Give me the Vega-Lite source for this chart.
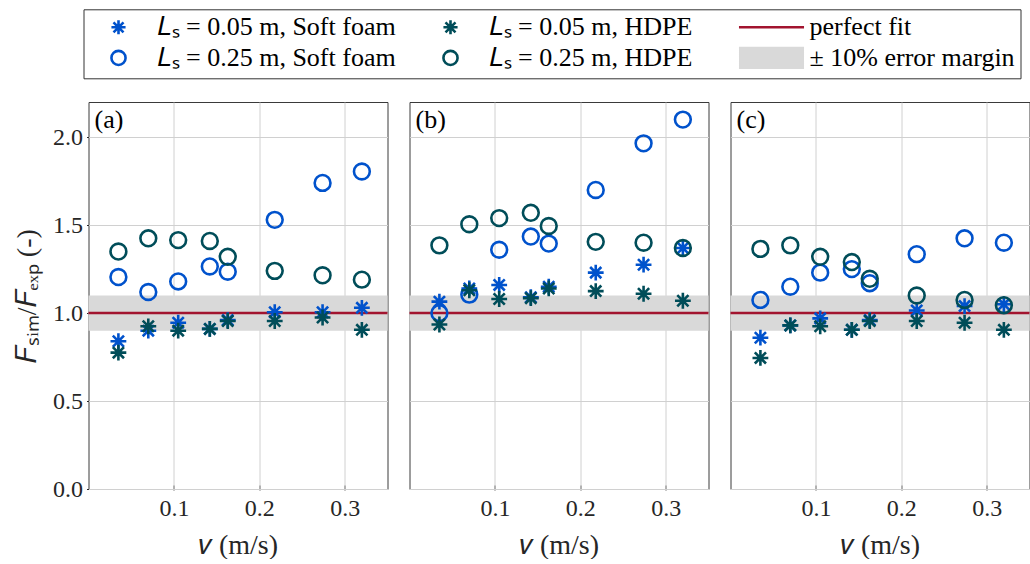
{
  "$schema": "https://vega.github.io/schema/vega-lite/v6.json",
  "background": "white",
  "padding": {"left": 13.5, "top": 8, "right": 0, "bottom": 0},
  "data": {
    "values": [
      {"p": "(a)", "s": "s05", "v": 0.035, "r": 0.84},
      {"p": "(a)", "s": "s05", "v": 0.07, "r": 0.9},
      {"p": "(a)", "s": "s05", "v": 0.105, "r": 0.945},
      {"p": "(a)", "s": "s05", "v": 0.142, "r": 0.91},
      {"p": "(a)", "s": "s05", "v": 0.163, "r": 0.96},
      {"p": "(a)", "s": "s05", "v": 0.218, "r": 1.005},
      {"p": "(a)", "s": "s05", "v": 0.274, "r": 1.005},
      {"p": "(a)", "s": "s05", "v": 0.32, "r": 1.03},
      {"p": "(a)", "s": "s25", "v": 0.035, "r": 1.205},
      {"p": "(a)", "s": "s25", "v": 0.07, "r": 1.12},
      {"p": "(a)", "s": "s25", "v": 0.105, "r": 1.18},
      {"p": "(a)", "s": "s25", "v": 0.142, "r": 1.265},
      {"p": "(a)", "s": "s25", "v": 0.163, "r": 1.235},
      {"p": "(a)", "s": "s25", "v": 0.218, "r": 1.53},
      {"p": "(a)", "s": "s25", "v": 0.274, "r": 1.74},
      {"p": "(a)", "s": "s25", "v": 0.32, "r": 1.805},
      {"p": "(a)", "s": "h05", "v": 0.035, "r": 0.775},
      {"p": "(a)", "s": "h05", "v": 0.07, "r": 0.925},
      {"p": "(a)", "s": "h05", "v": 0.105, "r": 0.9},
      {"p": "(a)", "s": "h05", "v": 0.142, "r": 0.91},
      {"p": "(a)", "s": "h05", "v": 0.163, "r": 0.955},
      {"p": "(a)", "s": "h05", "v": 0.218, "r": 0.955},
      {"p": "(a)", "s": "h05", "v": 0.274, "r": 0.975},
      {"p": "(a)", "s": "h05", "v": 0.32, "r": 0.905},
      {"p": "(a)", "s": "h25", "v": 0.035, "r": 1.35},
      {"p": "(a)", "s": "h25", "v": 0.07, "r": 1.425},
      {"p": "(a)", "s": "h25", "v": 0.105, "r": 1.415},
      {"p": "(a)", "s": "h25", "v": 0.142, "r": 1.41},
      {"p": "(a)", "s": "h25", "v": 0.163, "r": 1.32},
      {"p": "(a)", "s": "h25", "v": 0.218, "r": 1.24},
      {"p": "(a)", "s": "h25", "v": 0.274, "r": 1.215},
      {"p": "(a)", "s": "h25", "v": 0.32, "r": 1.19},
      {"p": "(b)", "s": "s05", "v": 0.035, "r": 1.065},
      {"p": "(b)", "s": "s05", "v": 0.07, "r": 1.14},
      {"p": "(b)", "s": "s05", "v": 0.105, "r": 1.16},
      {"p": "(b)", "s": "s05", "v": 0.142, "r": 1.09},
      {"p": "(b)", "s": "s05", "v": 0.163, "r": 1.15},
      {"p": "(b)", "s": "s05", "v": 0.218, "r": 1.23},
      {"p": "(b)", "s": "s05", "v": 0.274, "r": 1.275},
      {"p": "(b)", "s": "s05", "v": 0.32, "r": 1.37},
      {"p": "(b)", "s": "s25", "v": 0.035, "r": 1.0},
      {"p": "(b)", "s": "s25", "v": 0.07, "r": 1.105},
      {"p": "(b)", "s": "s25", "v": 0.105, "r": 1.36},
      {"p": "(b)", "s": "s25", "v": 0.142, "r": 1.435},
      {"p": "(b)", "s": "s25", "v": 0.163, "r": 1.395},
      {"p": "(b)", "s": "s25", "v": 0.218, "r": 1.7},
      {"p": "(b)", "s": "s25", "v": 0.274, "r": 1.965},
      {"p": "(b)", "s": "s25", "v": 0.32, "r": 2.1},
      {"p": "(b)", "s": "h05", "v": 0.035, "r": 0.935},
      {"p": "(b)", "s": "h05", "v": 0.07, "r": 1.13},
      {"p": "(b)", "s": "h05", "v": 0.105, "r": 1.08},
      {"p": "(b)", "s": "h05", "v": 0.142, "r": 1.085},
      {"p": "(b)", "s": "h05", "v": 0.163, "r": 1.14},
      {"p": "(b)", "s": "h05", "v": 0.218, "r": 1.125},
      {"p": "(b)", "s": "h05", "v": 0.274, "r": 1.11},
      {"p": "(b)", "s": "h05", "v": 0.32, "r": 1.07},
      {"p": "(b)", "s": "h25", "v": 0.035, "r": 1.385},
      {"p": "(b)", "s": "h25", "v": 0.07, "r": 1.505},
      {"p": "(b)", "s": "h25", "v": 0.105, "r": 1.54},
      {"p": "(b)", "s": "h25", "v": 0.142, "r": 1.57},
      {"p": "(b)", "s": "h25", "v": 0.163, "r": 1.495},
      {"p": "(b)", "s": "h25", "v": 0.218, "r": 1.405},
      {"p": "(b)", "s": "h25", "v": 0.274, "r": 1.4},
      {"p": "(b)", "s": "h25", "v": 0.32, "r": 1.37},
      {"p": "(c)", "s": "s05", "v": 0.035, "r": 0.86},
      {"p": "(c)", "s": "s05", "v": 0.07, "r": 0.93},
      {"p": "(c)", "s": "s05", "v": 0.105, "r": 0.97},
      {"p": "(c)", "s": "s05", "v": 0.142, "r": 0.905},
      {"p": "(c)", "s": "s05", "v": 0.163, "r": 0.96},
      {"p": "(c)", "s": "s05", "v": 0.218, "r": 1.015},
      {"p": "(c)", "s": "s05", "v": 0.274, "r": 1.04},
      {"p": "(c)", "s": "s05", "v": 0.32, "r": 1.05},
      {"p": "(c)", "s": "s25", "v": 0.035, "r": 1.075},
      {"p": "(c)", "s": "s25", "v": 0.07, "r": 1.15},
      {"p": "(c)", "s": "s25", "v": 0.105, "r": 1.23},
      {"p": "(c)", "s": "s25", "v": 0.142, "r": 1.25},
      {"p": "(c)", "s": "s25", "v": 0.163, "r": 1.17},
      {"p": "(c)", "s": "s25", "v": 0.218, "r": 1.335},
      {"p": "(c)", "s": "s25", "v": 0.274, "r": 1.425},
      {"p": "(c)", "s": "s25", "v": 0.32, "r": 1.4},
      {"p": "(c)", "s": "h05", "v": 0.035, "r": 0.745},
      {"p": "(c)", "s": "h05", "v": 0.07, "r": 0.93},
      {"p": "(c)", "s": "h05", "v": 0.105, "r": 0.925},
      {"p": "(c)", "s": "h05", "v": 0.142, "r": 0.905},
      {"p": "(c)", "s": "h05", "v": 0.163, "r": 0.955},
      {"p": "(c)", "s": "h05", "v": 0.218, "r": 0.955},
      {"p": "(c)", "s": "h05", "v": 0.274, "r": 0.945},
      {"p": "(c)", "s": "h05", "v": 0.32, "r": 0.905},
      {"p": "(c)", "s": "h25", "v": 0.035, "r": 1.365},
      {"p": "(c)", "s": "h25", "v": 0.07, "r": 1.385},
      {"p": "(c)", "s": "h25", "v": 0.105, "r": 1.32},
      {"p": "(c)", "s": "h25", "v": 0.142, "r": 1.29},
      {"p": "(c)", "s": "h25", "v": 0.163, "r": 1.195},
      {"p": "(c)", "s": "h25", "v": 0.218, "r": 1.1},
      {"p": "(c)", "s": "h25", "v": 0.274, "r": 1.075},
      {"p": "(c)", "s": "h25", "v": 0.32, "r": 1.045}
    ]
  },
  "facet": {"column": {"field": "p", "type": "nominal", "header": null}},
  "spacing": 18,
  "spec": {
    "width": 299,
    "height": 387,
    "layer": [
      {
        "transform": [{"aggregate": [{"op": "count", "as": "n"}], "groupby": ["p"]}],
        "mark": {"type": "rect", "color": "#d9d9d9"},
        "encoding": {
          "y": {"datum": 0.9, "type": "quantitative"},
          "y2": {"datum": 1.1}
        }
      },
      {
        "transform": [{"aggregate": [{"op": "count", "as": "n"}], "groupby": ["p"]}],
        "mark": {"type": "rule", "color": "#a2142f", "strokeWidth": 2.5},
        "encoding": {
          "y": {"datum": 1, "type": "quantitative"}
        }
      },
      {
        "mark": {"type": "point", "filled": false, "strokeWidth": 2.6, "size": 250, "opacity": 1},
        "encoding": {
          "x": {
            "field": "v", "type": "quantitative",
            "scale": {"domain": [0, 0.35], "nice": false, "zero": false},
            "axis": {
              "values": [0.1, 0.2, 0.3], "format": ".1f", "title": "𝑣 (m/s)",
              "labelFont": "Liberation Serif", "titleFont": "Liberation Serif",
              "labelPadding": 11, "titlePadding": 11, "ticks": true, "grid": true
            }
          },
          "y": {
            "field": "r", "type": "quantitative",
            "scale": {"domain": [0, 2.2], "nice": false},
            "axis": {
              "values": [0, 0.5, 1, 1.5, 2], "format": ".1f", "title": "𝐹ₛᵢₘ/𝐹ₑₓₚ (-)",
              "labelFont": "Liberation Serif", "titleFont": "Liberation Serif",
              "labelPadding": 9, "titlePadding": 5, "minExtent": 40, "maxExtent": 40, "ticks": true, "grid": true
            }
          },
          "color": {
            "field": "s", "type": "nominal",
            "scale": {
              "domain": ["s05", "h05", "fit", "s25", "h25", "err"],
              "range": ["#0052cc", "#004d59", "#a2142f", "#0052cc", "#004d59", "#d9d9d9"]
            },
            "legend": {
              "orient": "none",
              "legendX": -5,
              "legendY": -92.7,
              "columns": 3,
              "direction": "horizontal",
              "title": " ",
              "titleOrient": "left",
              "titleFontSize": 26,
              "titlePadding": 17,
              "gridAlign": "each",
              "labelExpr": "datum.value === 's05' ? '𝐿ₛ = 0.05 m, Soft foam' : datum.value === 'h05' ? '𝐿ₛ = 0.05 m, HDPE' : datum.value === 'fit' ? 'perfect fit' : datum.value === 's25' ? '𝐿ₛ = 0.25 m, Soft foam' : datum.value === 'h25' ? '𝐿ₛ = 0.25 m, HDPE' : '± 10% error margin'",
              "labelFont": "Liberation Serif",
              "labelFontSize": 26,
              "labelColor": "#000000",
              "labelLimit": 500,
              "labelOffset": 25,
              "labelBaseline": "middle",
              "symbolSize": 200,
              "symbolStrokeWidth": 2.6,
              "columnPadding": 41,
              "rowPadding": 2.6,
              "padding": 5,
              "strokeColor": "#333333",
              "fillColor": "white"
            }
          },
          "shape": {
            "field": "s", "type": "nominal",
            "scale": {
              "domain": ["s05", "h05", "fit", "s25", "h25", "err"],
              "range": [
                "M0,-1V1M-1,0H1M-0.707,-0.707L0.707,0.707M-0.707,0.707L0.707,-0.707",
                "M0,-1V1M-1,0H1M-0.707,-0.707L0.707,0.707M-0.707,0.707L0.707,-0.707",
                "M-4.6,0H4.6",
                "circle",
                "circle",
                "M-4.6,-1.38H4.6M-4.6,-1.07H4.6M-4.6,-0.77H4.6M-4.6,-0.46H4.6M-4.6,-0.15H4.6M-4.6,0.15H4.6M-4.6,0.46H4.6M-4.6,0.77H4.6M-4.6,1.07H4.6M-4.6,1.38H4.6"
              ]
            }
          }
        }
      },
      {
        "transform": [{"aggregate": [{"op": "count", "as": "n"}], "groupby": ["p"]}],
        "mark": {"type": "text", "align": "left", "baseline": "top", "dx": 6, "dy": 5, "fontSize": 26, "font": "Liberation Serif", "color": "#000000"},
        "encoding": {
          "x": {"datum": 0, "type": "quantitative"},
          "y": {"datum": 2.2, "type": "quantitative"},
          "text": {"field": "p"}
        }
      }
    ]
  },
  "config": {
    "font": "Liberation Serif",
    "view": {"stroke": "#3a3a3a", "strokeWidth": 1},
    "style": {
      "guide-label": {"font": "Liberation Serif"},
      "guide-title": {"font": "Liberation Serif"}
    },
    "axis": {
      "labelFont": "Liberation Serif",
      "labelFontSize": 24,
      "labelColor": "#262626",
      "titleFont": "Liberation Serif",
      "titleFontSize": 28,
      "titleFontWeight": "normal",
      "titleColor": "#262626",
      "gridColor": "#d0d0d0",
      "gridWidth": 1,
      "domain": false,
      "tickColor": "#262626",
      "tickSize": -5
    }
  }
}
